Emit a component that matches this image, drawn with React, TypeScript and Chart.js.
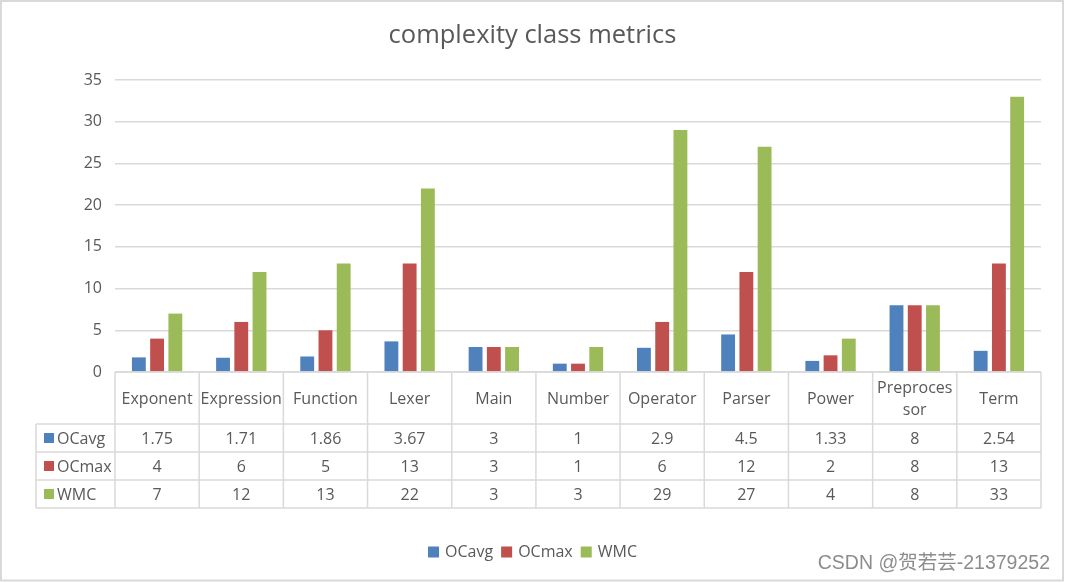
import { useEffect, useRef } from "react";
import { Chart, registerables } from "chart.js";

Chart.register(...registerables);

// ---- data ----
const categories = [
  "Exponent",
  "Expression",
  "Function",
  "Lexer",
  "Main",
  "Number",
  "Operator",
  "Parser",
  "Power",
  "Preprocessor",
  "Term",
];
// how each category name is wrapped inside its table cell
const categoryLines: string[][] = [
  ["Exponent"],
  ["Expression"],
  ["Function"],
  ["Lexer"],
  ["Main"],
  ["Number"],
  ["Operator"],
  ["Parser"],
  ["Power"],
  ["Preproces", "sor"],
  ["Term"],
];
const ocavg = [1.75, 1.71, 1.86, 3.67, 3, 1, 2.9, 4.5, 1.33, 8, 2.54];
const ocmax = [4, 6, 5, 13, 3, 1, 6, 12, 2, 8, 13];
const wmc = [7, 12, 13, 22, 3, 3, 29, 27, 4, 8, 33];
const seriesNames = ["OCavg", "OCmax", "WMC"];
const seriesValues = [ocavg, ocmax, wmc];
const seriesColors = ["#4F81BD", "#C0504D", "#9BBB59"];
const yMin = 0;
const yMax = 35;
const yStep = 5;
const chartTitle = "complexity class metrics";
const watermark = "CSDN @贺若芸-21379252";

// ---- styling ----
const FONT = "'Open Sans', 'Noto Sans', sans-serif";
const TEXT = "#595959";
const GRID = "#D9D9D9";
const HEAD_H = 52;
const ROW_H = 28;
const HEADER_LEFT = 36;

const tablePlugin = {
  id: "dataTable",
  afterDraw(chart: any) {
    const ctx: CanvasRenderingContext2D = chart.ctx;
    const area = chart.chartArea;
    const xs = chart.scales.x;
    const n = categories.length;
    const colW = (area.right - area.left) / n;
    const top = area.bottom;
    const rowsTop = top + HEAD_H;
    const bottom = rowsTop + ROW_H * seriesNames.length;

    ctx.save();
    ctx.strokeStyle = GRID;
    ctx.lineWidth = 1.5;
    const line = (x1: number, y1: number, x2: number, y2: number) => {
      ctx.beginPath();
      ctx.moveTo(x1, y1);
      ctx.lineTo(x2, y2);
      ctx.stroke();
    };
    line(area.left, top, area.right, top);
    for (let k = 0; k <= seriesNames.length; k++) {
      const y = rowsTop + k * ROW_H;
      line(HEADER_LEFT, y, area.right, y);
    }
    for (let i = 0; i <= n; i++) {
      const x = area.left + i * colW;
      line(x, top, x, bottom);
    }
    line(HEADER_LEFT, rowsTop, HEADER_LEFT, bottom);

    ctx.fillStyle = TEXT;
    ctx.font = `16px ${FONT}`;
    ctx.textAlign = "center";
    ctx.textBaseline = "middle";
    // category header row
    categoryLines.forEach((lines, i) => {
      const cx = xs.getPixelForValue(i);
      const lh = 22;
      const y0 = top + HEAD_H / 2 + 1 - ((lines.length - 1) * lh) / 2;
      lines.forEach((t, j) => ctx.fillText(t, cx, y0 + j * lh));
    });
    // series rows
    seriesNames.forEach((name, r) => {
      const cy = rowsTop + r * ROW_H + ROW_H / 2 + 1;
      ctx.fillStyle = seriesColors[r];
      ctx.fillRect(44, cy - 6, 10, 10);
      ctx.fillStyle = TEXT;
      ctx.textAlign = "left";
      ctx.fillText(name, 57, cy);
      ctx.textAlign = "center";
      seriesValues[r].forEach((v, i) => {
        ctx.fillText(String(v), xs.getPixelForValue(i), cy);
      });
    });

    // title
    ctx.font = `25.5px ${FONT}`;
    ctx.fillText(chartTitle, chart.width / 2, 36);

    // legend
    ctx.font = `16px ${FONT}`;
    const box = 11;
    const gap = 6;
    const spacing = 8;
    const widths = seriesNames.map((s) => box + gap + ctx.measureText(s).width);
    const total = widths.reduce((a, b) => a + b, 0) + spacing * (widths.length - 1);
    let lx = chart.width / 2 - total / 2;
    const ly = 552;
    ctx.textAlign = "left";
    seriesNames.forEach((s, i) => {
      ctx.fillStyle = seriesColors[i];
      ctx.fillRect(lx, ly - box / 2, box, box);
      ctx.fillStyle = TEXT;
      ctx.fillText(s, lx + box + gap, ly);
      lx += widths[i] + spacing;
    });

    // watermark
    ctx.font = `19.5px 'Liberation Sans', 'Noto Sans CJK SC', sans-serif`;
    ctx.textAlign = "right";
    ctx.shadowColor = "rgba(255,255,255,0.9)";
    ctx.shadowOffsetX = 1;
    ctx.shadowOffsetY = 1;
    ctx.shadowBlur = 1;
    ctx.fillStyle = "rgba(120,120,120,0.85)";
    ctx.fillText(watermark, 1050, 564);
    ctx.shadowColor = "transparent";

    // outer frame
    ctx.strokeStyle = GRID;
    ctx.lineWidth = 2;
    ctx.strokeRect(1, 1, chart.width - 3, chart.height - 3.5);
    ctx.restore();
  },
};

export default function App() {
  const canvasRef = useRef<HTMLCanvasElement | null>(null);

  useEffect(() => {
    if (!canvasRef.current) return;
    const chart = new Chart(canvasRef.current, {
      type: "bar",
      data: {
        labels: categories,
        datasets: seriesNames.map((name, i) => ({
          label: name,
          data: seriesValues[i],
          backgroundColor: seriesColors[i],
          barPercentage: 0.76,
          categoryPercentage: 0.65,
        })),
      },
      options: {
        responsive: false,
        animation: false,
        devicePixelRatio: 1,
        layout: { padding: { top: 80, right: 24, bottom: 75, left: 0 } },
        plugins: {
          legend: { display: false },
          title: { display: false },
          tooltip: { enabled: false },
        },
        scales: {
          x: {
            grid: { display: false },
            border: { display: false },
            ticks: { display: false },
            afterFit: (scale: any) => {
              scale.height = HEAD_H + ROW_H * seriesNames.length;
            },
          },
          y: {
            min: yMin,
            max: yMax,
            ticks: {
              stepSize: yStep,
              color: TEXT,
              padding: 13,
              font: { size: 16, family: FONT },
            },
            grid: { color: GRID, lineWidth: 1.5, drawTicks: false },
            border: { display: false },
            afterFit: (scale: any) => {
              scale.width = 115;
            },
          },
        },
      },
      plugins: [tablePlugin],
    });
    return () => chart.destroy();
  }, []);

  return (
    <div style={{ position: "fixed", left: 0, top: 0, width: 1065, height: 583, background: "#fff" }}>
      <canvas ref={canvasRef} width={1065} height={583} />
    </div>
  );
}
